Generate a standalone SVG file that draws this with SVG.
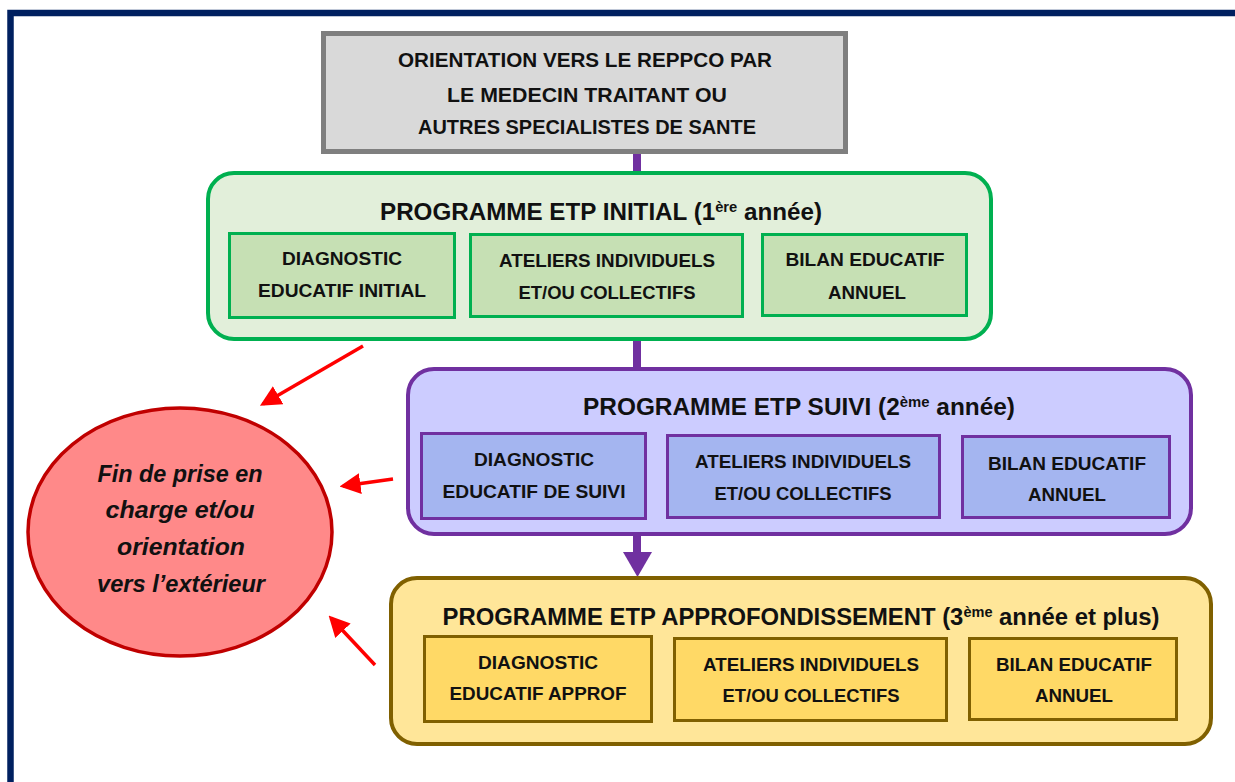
<svg xmlns="http://www.w3.org/2000/svg" width="1235" height="782" viewBox="0 0 1235 782">
<defs>
<style>
.t{font-family:"Liberation Sans",Arial,sans-serif;font-weight:bold;fill:#111;text-anchor:middle}
.sub{font-size:19px}
.ttl{font-size:23px}
.sup{font-size:14px}
.ell{font-family:"Liberation Sans",Arial,sans-serif;font-weight:bold;font-style:italic;font-size:23px;fill:#111;text-anchor:middle}
.g1{fill:#e2efda;stroke:#00b050;stroke-width:4}
.g2{fill:#c6e0b4;stroke:#00b050;stroke-width:3}
.p1{fill:#ccccff;stroke:#7030a0;stroke-width:4}
.p2{fill:#a4b5f0;stroke:#7030a0;stroke-width:3}
.y1{fill:#ffe699;stroke:#806000;stroke-width:4}
.y2{fill:#ffd966;stroke:#806000;stroke-width:3}
.red{stroke:#ff0000;stroke-width:3.5;fill:none}
</style>
<marker id="ra" markerWidth="6" markerHeight="6" refX="5" refY="3" orient="auto" markerUnits="strokeWidth">
<path d="M0,0 L6,3 L0,6 Z" fill="#ff0000"/>
</marker>
</defs>
<rect x="0" y="0" width="1235" height="782" fill="#ffffff"/>
<rect x="10.5" y="13" width="1240" height="790" fill="none" stroke="#002060" stroke-width="6.5"/>

<g id="connectors">
<line x1="637" y1="152" x2="637" y2="173" stroke="#7030a0" stroke-width="8"/>
<line x1="637" y1="339" x2="637" y2="369" stroke="#7030a0" stroke-width="8"/>
<line x1="637" y1="534" x2="637" y2="556" stroke="#7030a0" stroke-width="8"/>
<path d="M623,552 L652,552 L637.5,577 Z" fill="#7030a0"/>
<line x1="455" y1="275" x2="470" y2="275" stroke="#00b050" stroke-width="3"/>
<line x1="743" y1="275" x2="762" y2="275" stroke="#00b050" stroke-width="3"/>
<line x1="646" y1="472" x2="667" y2="472" stroke="#7030a0" stroke-width="4"/>
<line x1="940" y1="474" x2="962" y2="474" stroke="#7030a0" stroke-width="4"/>
<line x1="652" y1="680" x2="674" y2="680" stroke="#806000" stroke-width="4"/>
<line x1="947" y1="680" x2="969" y2="680" stroke="#806000" stroke-width="4"/>
<line class="red" x1="363" y1="346" x2="263" y2="404" marker-end="url(#ra)"/>
<line class="red" x1="393" y1="479" x2="343" y2="486" marker-end="url(#ra)"/>
<line class="red" x1="375" y1="665" x2="331" y2="618" marker-end="url(#ra)"/>
</g>

<g id="orientation">
<rect x="323.5" y="33.5" width="522" height="118" fill="#d9d9d9" stroke="#7f7f7f" stroke-width="5"/>
<text class="t" x="585" y="67" font-size="20" textLength="374" lengthAdjust="spacingAndGlyphs">ORIENTATION VERS LE REPPCO PAR</text>
<text class="t" x="587" y="102" font-size="20" textLength="280" lengthAdjust="spacingAndGlyphs">LE MEDECIN TRAITANT OU</text>
<text class="t" x="587" y="134" font-size="20" textLength="338" lengthAdjust="spacingAndGlyphs">AUTRES SPECIALISTES DE SANTE</text>
</g>

<g id="initial">
<rect class="g1" x="208" y="173" width="783" height="166" rx="26"/>
<text class="t ttl" x="601" y="220" textLength="442" lengthAdjust="spacingAndGlyphs">PROGRAMME ETP INITIAL (1<tspan class="sup" dy="-8">ère</tspan><tspan dy="8"> année)</tspan></text>
<g id="initial-diag">
<rect class="g2" x="229.5" y="233.5" width="225" height="84"/>
<text class="t sub" x="342" y="265" textLength="120" lengthAdjust="spacingAndGlyphs">DIAGNOSTIC</text>
<text class="t sub" x="342" y="297" textLength="168" lengthAdjust="spacingAndGlyphs">EDUCATIF INITIAL</text>
</g>
<g id="initial-ateliers">
<rect class="g2" x="470.5" y="234.5" width="272" height="82"/>
<text class="t sub" x="607" y="267" textLength="216" lengthAdjust="spacingAndGlyphs">ATELIERS INDIVIDUELS</text>
<text class="t sub" x="607" y="299" textLength="177" lengthAdjust="spacingAndGlyphs">ET/OU COLLECTIFS</text>
</g>
<g id="initial-bilan">
<rect class="g2" x="762.5" y="234.5" width="204" height="81"/>
<text class="t sub" x="865" y="266" textLength="159" lengthAdjust="spacingAndGlyphs">BILAN EDUCATIF</text>
<text class="t sub" x="867" y="299" textLength="78" lengthAdjust="spacingAndGlyphs">ANNUEL</text>
</g>
</g>

<g id="suivi">
<rect class="p1" x="408" y="369" width="783" height="165" rx="26"/>
<text class="t ttl" x="799" y="415" textLength="432" lengthAdjust="spacingAndGlyphs">PROGRAMME ETP SUIVI (2<tspan class="sup" dy="-8">ème</tspan><tspan dy="8"> année)</tspan></text>
<g id="suivi-diag">
<rect class="p2" x="421.5" y="433.5" width="224" height="85"/>
<text class="t sub" x="534" y="466" textLength="120" lengthAdjust="spacingAndGlyphs">DIAGNOSTIC</text>
<text class="t sub" x="534" y="498" textLength="183" lengthAdjust="spacingAndGlyphs">EDUCATIF DE SUIVI</text>
</g>
<g id="suivi-ateliers">
<rect class="p2" x="667.5" y="435.5" width="272" height="82"/>
<text class="t sub" x="803" y="468" textLength="216" lengthAdjust="spacingAndGlyphs">ATELIERS INDIVIDUELS</text>
<text class="t sub" x="803" y="500" textLength="177" lengthAdjust="spacingAndGlyphs">ET/OU COLLECTIFS</text>
</g>
<g id="suivi-bilan">
<rect class="p2" x="962.5" y="436.5" width="207" height="81"/>
<text class="t sub" x="1067" y="470" textLength="158" lengthAdjust="spacingAndGlyphs">BILAN EDUCATIF</text>
<text class="t sub" x="1067" y="501" textLength="78" lengthAdjust="spacingAndGlyphs">ANNUEL</text>
</g>
</g>

<g id="approf">
<rect class="y1" x="391" y="578" width="820" height="166" rx="26"/>
<text class="t ttl" x="801" y="625" textLength="717" lengthAdjust="spacingAndGlyphs">PROGRAMME ETP APPROFONDISSEMENT (3<tspan class="sup" dy="-8">ème</tspan><tspan dy="8"> année et plus)</tspan></text>
<g id="approf-diag">
<rect class="y2" x="424.5" y="636.5" width="227" height="85"/>
<text class="t sub" x="538" y="669" textLength="120" lengthAdjust="spacingAndGlyphs">DIAGNOSTIC</text>
<text class="t sub" x="538" y="700" textLength="177" lengthAdjust="spacingAndGlyphs">EDUCATIF APPROF</text>
</g>
<g id="approf-ateliers">
<rect class="y2" x="674.5" y="638.5" width="272" height="82"/>
<text class="t sub" x="811" y="671" textLength="216" lengthAdjust="spacingAndGlyphs">ATELIERS INDIVIDUELS</text>
<text class="t sub" x="811" y="702" textLength="177" lengthAdjust="spacingAndGlyphs">ET/OU COLLECTIFS</text>
</g>
<g id="approf-bilan">
<rect class="y2" x="969.5" y="638.5" width="207" height="81"/>
<text class="t sub" x="1074" y="671" textLength="156" lengthAdjust="spacingAndGlyphs">BILAN EDUCATIF</text>
<text class="t sub" x="1074" y="702" textLength="78" lengthAdjust="spacingAndGlyphs">ANNUEL</text>
</g>
</g>

<g id="fin">
<ellipse cx="180" cy="532" rx="152" ry="124" fill="#ff8989" stroke="#c00000" stroke-width="3.5"/>
<text class="ell" x="180" y="482" textLength="165" lengthAdjust="spacingAndGlyphs">Fin de prise en</text>
<text class="ell" x="180" y="518" textLength="149" lengthAdjust="spacingAndGlyphs">charge et/ou</text>
<text class="ell" x="181" y="555" textLength="128" lengthAdjust="spacingAndGlyphs">orientation</text>
<text class="ell" x="181" y="592" textLength="168" lengthAdjust="spacingAndGlyphs">vers l’extérieur</text>
</g>
</svg>
